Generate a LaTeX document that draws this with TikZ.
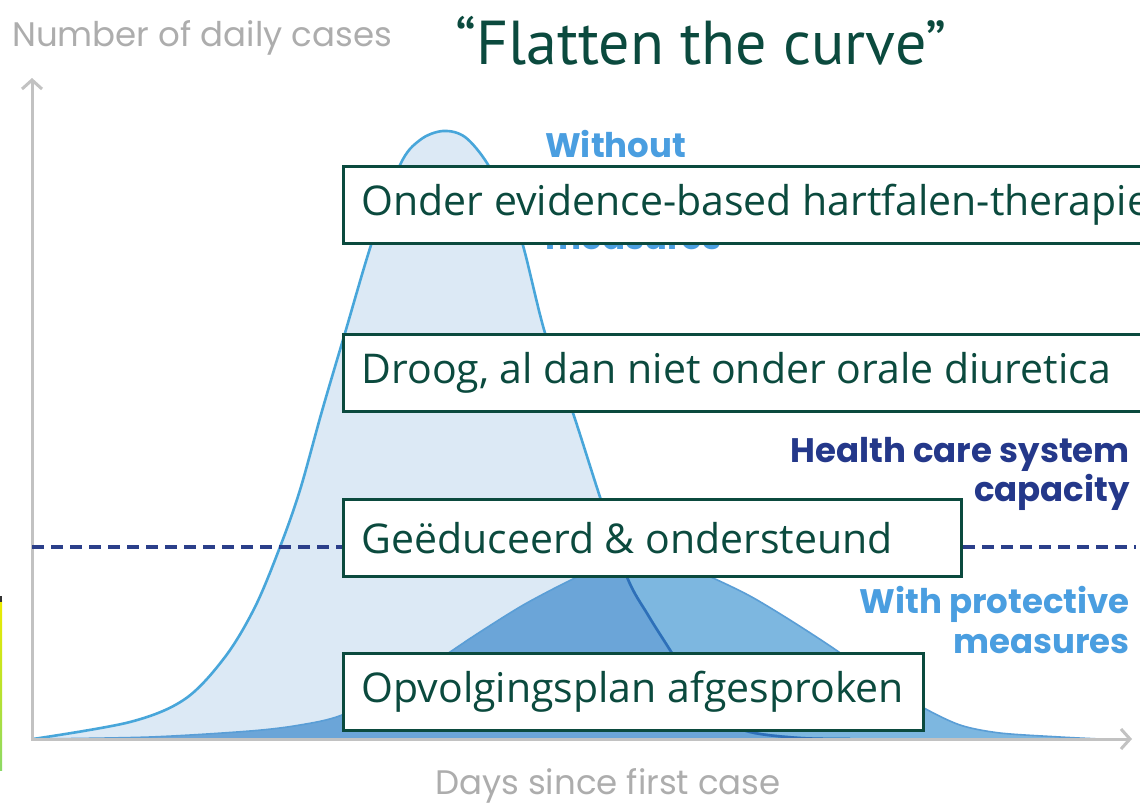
\documentclass[tikz,border=0pt]{standalone}
\usepackage{fontspec}
\setmainfont{PT Sans}
\newfontfamily\chartf{Poppins}
\newfontfamily\boxf{Open Sans}
\usetikzlibrary{arrows.meta}
\definecolor{dkgreen}{HTML}{0B4A3E}
\definecolor{axisgray}{HTML}{C2C2C2}
\definecolor{labgray}{HTML}{ADADAD}
\definecolor{lightfill}{HTML}{DCE9F5}
\definecolor{midfill}{HTML}{7DB7E0}
\definecolor{darkfill}{HTML}{6BA5D8}
\definecolor{curveline}{HTML}{48A6DA}
\definecolor{curvedark}{HTML}{2F6FB8}
\definecolor{smallline}{HTML}{5A9ED6}
\definecolor{navy}{HTML}{24388A}
\definecolor{dashnavy}{HTML}{2B3F8A}
\definecolor{skyblue}{HTML}{4A9EE0}
\tikzset{
  bigcurve/.style={insert path={plot[smooth,tension=0.55] coordinates{
    (33,739) (130,722) (185,699) (225,657) (255,607) (280,547) (300,490)
    (322,411) (345,333) (372,242) (400,165) (420,140) (443,131) (465,137)
    (487,163) (505,200) (522,242) (545,333) (573,413) (600,497) (627,577)
    (648,615) (670,650) (695,690) (720,718) (750,732) (800,738) (850,739)}}},
  smallcurve/.style={insert path={plot[smooth,tension=0.5] coordinates{
    (33,739) (150,737) (250,731) (300,725) (342,715) (400,686) (450,652)
    (480,632) (525,604) (577,577) (612,563) (645,558) (680,564) (713,578)
    (750,596) (790,620) (836,650) (880,682) (922,707) (960,725) (1000,733)
    (1060,737) (1100,739)}}},
  box/.style={draw=dkgreen, line width=3pt, fill=white, inner xsep=18pt,
    inner ysep=0pt, minimum height=77pt, text=dkgreen,
    font=\boxf\fontsize{41}{46}\selectfont, anchor=north west},
  axis/.style={draw=axisgray, line width=3pt},
  graylab/.style={text=labgray, font=\chartf\fontsize{34}{40}\selectfont, inner sep=0pt},
  bluelab/.style={font=\chartf\bfseries\fontsize{34}{40}\selectfont, inner sep=0pt},
}
\begin{document}
\begin{tikzpicture}[x=1pt,y=-1pt]
\useasboundingbox (0,0) rectangle (1140,808);
\clip (0,0) rectangle (1140,808);
\fill[white] (0,0) rectangle (1140,808);
% left edge bar
\shade[top color=yellow!85!olive, bottom color=green!50!olive!60] (0,600) rectangle (2,770);
\fill[black!80] (0,596) rectangle (2,602);
% curves
\fill[lightfill, bigcurve] -- cycle;
\fill[midfill, smallcurve] -- cycle;
\begin{scope}
  \clip[bigcurve] -- cycle;
  \fill[darkfill, smallcurve] -- cycle;
\end{scope}
\draw[smallline, line width=1.6pt, smallcurve];
\draw[curveline, line width=2.6pt, bigcurve];
\begin{scope}
  \clip[smallcurve] -- cycle;
  \draw[curvedark, line width=2.6pt, bigcurve];
\end{scope}
% axes
\coordinate (ytop) at (32,78);
\coordinate (orig) at (32,739);
\coordinate (xend) at (1132,739);
\draw[axis, {Straight Barb[length=9pt,width=20pt]}-{Straight Barb[length=9pt,width=20pt]}] (ytop) -- (orig) -- (xend);
% capacity line
\coordinate (capL) at (32,547);
\coordinate (capR) at (1136,547);
\draw[dashnavy, line width=4.5pt, dash pattern=on 12pt off 7pt] (capL) -- (capR);
% chart labels
\node[graylab, anchor=base west] (ylab) at (12,47) {Number of daily cases};
\node[graylab, anchor=base west] (xlab) at (435,794) {Days since first case};
\node[bluelab, text=skyblue, anchor=base west] (without) at (545,157) {Without};
\node[bluelab, text=skyblue, anchor=base west] (wmeas) at (545,249) {measures};
\node[bluelab, text=navy, anchor=base east] (hcs1) at (1130,462) {Health care system};
\node[bluelab, text=navy, anchor=base east] (hcs2) at (1130,501) {capacity};
\node[bluelab, text=skyblue, anchor=base east] (wpm1) at (1130,613) {With protective};
\node[bluelab, text=skyblue, anchor=base east] (wpm2) at (1130,653) {measures};
% title
\node[text=dkgreen, font=\fontsize{62}{66}\selectfont, anchor=base west, inner sep=0pt] (title) at (455,64) {“Flatten the curve”};
% boxes
\node[box] (b1) at (342,165) {\makebox[822pt][l]{Onder evidence-based hartfalen-therapie}};
\node[box] (b2) at (342,333) {\makebox[822pt][l]{Droog, al dan niet onder orale diuretica}};
\node[box] (b3) at (342,498) {\makebox[582pt][l]{Geëduceerd \& ondersteund}};
\node[box] (b4) at (342,652) {\makebox[544pt][l]{Opvolgingsplan afgesproken}};
\end{tikzpicture}
\end{document}
